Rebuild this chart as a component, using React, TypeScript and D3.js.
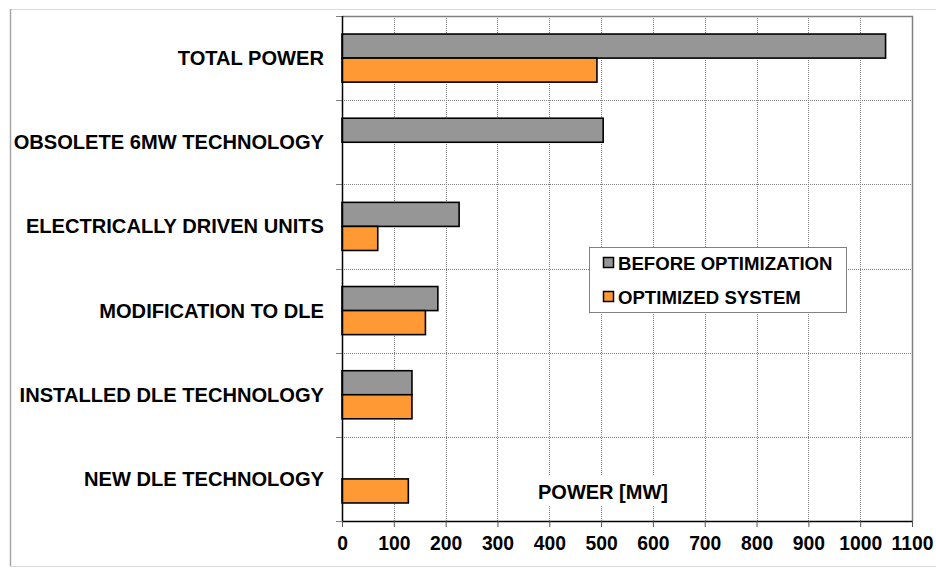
import React, { useRef, useEffect } from 'react';
import * as d3 from 'd3';

// categories, top to bottom
const categories = [
  'TOTAL POWER',
  'OBSOLETE 6MW TECHNOLOGY',
  'ELECTRICALLY DRIVEN UNITS',
  'MODIFICATION TO DLE',
  'INSTALLED DLE TECHNOLOGY',
  'NEW DLE TECHNOLOGY',
];
const beforeOptimization = [1049, 504, 226, 185, 135, 0];
const optimizedSystem = [492, 0, 69, 161, 135, 128];
const seriesNames = ['BEFORE OPTIMIZATION', 'OPTIMIZED SYSTEM'];
const xTicks = [0, 100, 200, 300, 400, 500, 600, 700, 800, 900, 1000, 1100];
const axisTitle = 'POWER [MW]';

const colors = ['#969696', '#FF9933'];
const font = 'Arial, "Liberation Sans", sans-serif';

export default function App() {
  const ref = useRef<SVGSVGElement>(null);

  useEffect(() => {
    const svg = d3.select(ref.current);
    svg.selectAll('*').remove();

    const left = 342, right = 912, top = 16, bottom = 521;

    // chart area border
    svg.append('rect')
      .attr('x', 10.5).attr('y', 9.5)
      .attr('width', 940).attr('height', 557)
      .attr('fill', 'white')
      .attr('stroke', '#d9d9d9');
    svg.append('line')
      .attr('x1', 10.5).attr('x2', 10.5).attr('y1', 9).attr('y2', 566)
      .attr('stroke', '#a6a6a6').attr('stroke-width', 1.5);

    const x = d3.scaleLinear().domain([0, 1100]).range([left, right]);
    const y = d3.scaleBand().domain(categories).range([top, bottom]);
    const inner = d3.scaleBand().domain(seriesNames)
      .range([0, y.bandwidth()]).paddingOuter(0.75).paddingInner(0);

    const g = svg.append('g');

    // gridlines
    g.selectAll('.vgrid')
      .data(xTicks.slice(1, -1))
      .enter().append('line')
      .attr('x1', d => Math.round(x(d)) + 0.5).attr('x2', d => Math.round(x(d)) + 0.5)
      .attr('y1', top).attr('y2', bottom)
      .attr('stroke', '#808080').attr('stroke-dasharray', '1,1');

    const boundaries = categories.slice(1).map(c => y(c) as number);
    g.selectAll('.hgrid')
      .data(boundaries)
      .enter().append('line')
      .attr('x1', left).attr('x2', right)
      .attr('y1', d => Math.round(d) + 0.5).attr('y2', d => Math.round(d) + 0.5)
      .attr('stroke', '#808080').attr('stroke-dasharray', '1,1');

    // plot border (top + right)
    g.append('path')
      .attr('d', `M${left},${top + 0.5}H${right + 0.5}V${bottom}`)
      .attr('fill', 'none').attr('stroke', '#808080').attr('stroke-width', 1.5);

    // y tick marks
    g.selectAll('.ytick')
      .data([top, ...boundaries, bottom])
      .enter().append('line')
      .attr('x1', left - 6).attr('x2', left)
      .attr('y1', d => Math.round(d) + 0.5).attr('y2', d => Math.round(d) + 0.5)
      .attr('stroke', '#808080');

    // axis title with white background
    const titleX = 538, titleY = 492;
    g.append('rect')
      .attr('x', titleX - 4).attr('y', titleY - 16)
      .attr('width', 140).attr('height', 30)
      .attr('fill', 'white');
    g.append('text')
      .attr('x', titleX).attr('y', titleY)
      .attr('dy', '0.35em')
      .attr('font-family', font).attr('font-weight', 'bold').attr('font-size', 20)
      .text(axisTitle);

    // bars
    const series = [beforeOptimization, optimizedSystem];
    series.forEach((vals, si) => {
      g.selectAll(`.bar${si}`)
        .data(categories.map((c, i) => ({ c, v: vals[i] })).filter(d => d.v > 0))
        .enter().append('rect')
        .attr('x', x(0))
        .attr('y', d => (y(d.c) as number) + (inner(seriesNames[si]) as number))
        .attr('width', d => x(d.v) - x(0))
        .attr('height', inner.bandwidth())
        .attr('fill', colors[si])
        .attr('stroke', 'black').attr('stroke-width', 1.6);
    });

    // axes lines
    g.append('line')
      .attr('x1', left + 0.5).attr('x2', left + 0.5).attr('y1', top).attr('y2', bottom)
      .attr('stroke', 'black').attr('stroke-width', 1.5);

    const xAxis = d3.axisBottom(x).tickValues(xTicks).tickSize(6).tickSizeOuter(0)
      .tickFormat(d => String(d));
    const ax = g.append('g')
      .attr('transform', `translate(0,${bottom})`)
      .call(xAxis);
    ax.select('.domain').attr('stroke', 'black').attr('stroke-width', 1.5);
    ax.selectAll('.tick line').attr('stroke', '#555');
    ax.selectAll('.tick text')
      .attr('font-family', font).attr('font-weight', 'bold').attr('font-size', 19.3)
      .attr('fill', 'black').attr('y', 15);

    // category labels
    g.selectAll('.cat')
      .data(categories)
      .enter().append('text')
      .attr('x', 324)
      .attr('y', d => (y(d) as number) + y.bandwidth() / 2)
      .attr('dy', '0.35em')
      .attr('text-anchor', 'end')
      .attr('font-family', font).attr('font-weight', 'bold').attr('font-size', 20.1)
      .text(d => d);

    // legend
    const lg = g.append('g');
    lg.append('rect')
      .attr('x', 589.5).attr('y', 247.5).attr('width', 257).attr('height', 65)
      .attr('fill', 'white').attr('stroke', '#808080');
    seriesNames.forEach((name, i) => {
      const cy = 263 + i * 34;
      lg.append('rect')
        .attr('x', 603.5).attr('y', cy - 5.5).attr('width', 10).attr('height', 10)
        .attr('fill', colors[i]).attr('stroke', 'black').attr('stroke-width', 1.5);
      lg.append('text')
        .attr('x', 618).attr('y', cy).attr('dy', '0.35em')
        .attr('font-family', font).attr('font-weight', 'bold').attr('font-size', 18.6)
        .text(name);
    });
  }, []);

  return (
    <svg ref={ref} width={936} height={568}
      style={{ position: 'absolute', left: 0, top: 0, background: 'white' }} />
  );
}
